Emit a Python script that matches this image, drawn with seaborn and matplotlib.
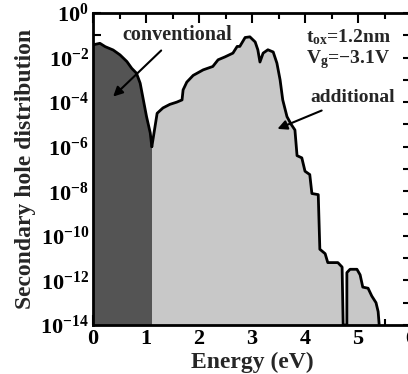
import numpy as np
import matplotlib
matplotlib.use("Agg")
import matplotlib.pyplot as plt
from matplotlib.ticker import FixedLocator, FuncFormatter
import seaborn as sns

# Secondary hole energy distributions (log10 of the distribution)
conv_energy = [0.00, 0.13, 0.23, 0.38, 0.51, 0.64, 0.73, 0.82, 0.89, 0.95, 1.01, 1.08, 1.11]
conv_log10 = [-1.43, -1.36, -1.51, -1.66, -1.88, -2.18, -2.48, -2.70, -3.15, -3.90, -4.65, -5.38, -6.00]

add_energy = [1.11, 1.21, 1.32, 1.45, 1.58, 1.68, 1.70, 1.77, 1.89, 2.08, 2.26, 2.36, 2.49,
              2.64, 2.72, 2.77, 2.87, 2.96, 3.06, 3.11, 3.15, 3.21, 3.30, 3.40, 3.47,
              3.53, 3.58, 3.66, 3.74, 3.81, 3.85, 3.94, 4.00, 4.09, 4.13, 4.25, 4.28,
              4.38, 4.43, 4.51, 4.62, 4.70, 4.72, 4.79, 4.79, 4.85, 4.98, 5.04, 5.09,
              5.19, 5.26, 5.34, 5.38, 5.40]
add_log10 = [-6.00, -4.50, -4.26, -4.10, -4.00, -3.90, -3.45, -3.10, -2.80, -2.55, -2.40, -2.10, -1.97,
             -1.80, -1.50, -1.50, -1.10, -1.07, -1.30, -1.65, -2.20, -1.80, -1.65, -1.75, -2.25,
             -3.00, -3.90, -4.65, -5.00, -5.25, -6.40, -6.50, -7.10, -7.25, -8.10, -8.15, -10.60,
             -10.80, -11.20, -11.20, -11.20, -11.40, -14.00, -14.00, -11.65, -11.50, -11.50, -11.75, -12.30,
             -12.35, -12.70, -13.00, -13.40, -14.00]

y_floor = 1e-14
x_ticks = [0, 1, 2, 3, 4, 5, 6]
y_major_exp = [0, -2, -4, -6, -8, -10, -12, -14]

sns.set_theme(style="ticks")
plt.rcParams["font.family"] = ["Liberation Serif", "DejaVu Serif"]
plt.rcParams["font.weight"] = "bold"
plt.rcParams["mathtext.fontset"] = "custom"
plt.rcParams["mathtext.rm"] = "Liberation Serif:bold"
plt.rcParams["mathtext.it"] = "Liberation Serif:bold"
plt.rcParams["mathtext.bf"] = "Liberation Serif:bold"

fig = plt.figure(figsize=(4.08, 3.74), dpi=100)
ax = fig.add_axes([93 / 408, 49 / 374, 318 / 408, 312 / 374])
ax.set_yscale("log")

conv_y = 10.0 ** np.array(conv_log10)
add_y = 10.0 ** np.array(add_log10)

ax.fill_between(conv_energy, y_floor, conv_y, color="#545454", lw=0, zorder=1)
ax.fill_between(add_energy, y_floor, add_y, color="#c8c8c8", lw=0, zorder=1)

sns.lineplot(x=conv_energy, y=conv_y, sort=False, estimator=None, color="black",
             lw=2.0, ax=ax, zorder=3)
sns.lineplot(x=add_energy, y=add_y, sort=False, estimator=None, color="black",
             lw=2.0, ax=ax, zorder=3)

ax.set_xlim(0, 6)
ax.set_ylim(1e-14, 1e0)

ax.xaxis.set_major_locator(FixedLocator(x_ticks))
ax.xaxis.set_minor_locator(FixedLocator(np.arange(0.5, 6, 1.0)))
ax.yaxis.set_major_locator(FixedLocator([10.0 ** e for e in y_major_exp]))
ax.yaxis.set_minor_locator(FixedLocator([10.0 ** e for e in range(-13, 0, 2)]))
ax.yaxis.set_major_formatter(FuncFormatter(lambda v, p: r"$10^{%d}$" % round(np.log10(v))))
ax.yaxis.set_minor_formatter(FuncFormatter(lambda v, p: ""))

ax.tick_params(which="both", direction="in", top=True, right=True, width=1.5, colors="black")
ax.tick_params(axis="x", which="major", length=7, labelsize=16, pad=3)
ax.tick_params(axis="x", which="minor", length=4)
ax.tick_params(axis="y", which="both", length=6, labelsize=16, pad=3)
for lab in ax.get_xticklabels() + ax.get_yticklabels():
    lab.set_fontweight("bold")
for sp in ax.spines.values():
    sp.set_linewidth(2.0)
    sp.set_color("black")
    sp.set_zorder(4)

ax.set_xlabel("Energy (eV)", fontsize=17, fontweight="bold", labelpad=2)
ax.set_ylabel("Secondary hole distribution", fontsize=17, fontweight="bold", labelpad=3)

ax.annotate("conventional", xy=(0.38, 10 ** -3.75), xytext=(0.55, 10 ** -1.0),
            fontsize=14.5, fontweight="bold", ha="left", va="center",
            arrowprops=dict(arrowstyle="-|>", color="black", lw=1.5, mutation_scale=14,
                            shrinkA=2, shrinkB=0))
ax.annotate("additional", xy=(3.48, 10 ** -5.2), xytext=(4.1, 10 ** -3.8),
            fontsize=14, fontweight="bold", ha="left", va="center",
            arrowprops=dict(arrowstyle="-|>", color="black", lw=1.5, mutation_scale=14,
                            shrinkA=2, shrinkB=0))
ax.text(4.02, 10 ** -1.1, r"t$_{\mathregular{ox}}$=1.2nm", fontsize=14, fontweight="bold",
        ha="left", va="center")
ax.text(4.02, 10 ** -2.08, r"V$_{\mathregular{g}}$=$-$3.1V", fontsize=14, fontweight="bold",
        ha="left", va="center")

fig.savefig("out.png", dpi=100)
